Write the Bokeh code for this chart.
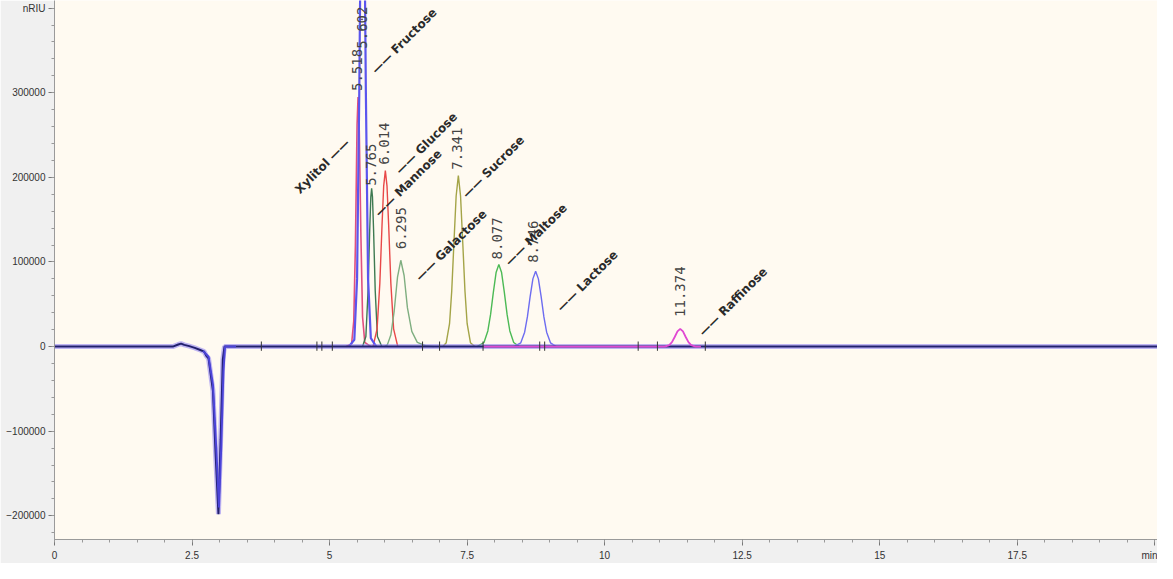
import numpy as np
from bokeh.plotting import figure
from bokeh.models import FixedTicker, Range1d, ColumnDataSource, BasicTickFormatter
from bokeh.core.properties import value
from bokeh.embed import file_html
from bokeh.resources import INLINE

# ---- data (time in min, signal) ----
BASE_T = [0.0, 2.15, 2.25, 2.30, 2.36, 2.45, 2.55, 2.65, 2.72, 2.76, 2.80, 2.88, 2.93, 2.98, 3.02, 3.06, 3.09, 20.05]
BASE_V = [0, 0, 2500, 3500, 2000, 500, -1500, -4000, -6000, -11000, -14000, -52000, -129000, -198000, -110000, -15000, 0, 0]

DIP_T = [2.70, 2.80, 2.88, 2.94, 2.99, 3.03, 3.07, 3.10, 3.30]
DIP_V = [-5000, -12000, -45000, -120000, -190000, -120000, -30000, 0, 0]

XYL_T = [5.30, 5.40, 5.44, 5.47, 5.50, 5.518, 5.54, 5.57, 5.60, 5.64, 5.75]
XYL_V = [0, 3000, 30000, 120000, 262000, 295000, 255000, 130000, 35000, 5000, 0]

FRU_T = [5.35, 5.45, 5.50, 5.54, 5.57, 5.602, 5.63, 5.66, 5.70, 5.75, 5.85]
FRU_V = [0, 8000, 80000, 300000, 520000, 650000, 520000, 300000, 80000, 10000, 0]

MAN_T = [5.60, 5.66, 5.70, 5.73, 5.75, 5.765, 5.78, 5.80, 5.83, 5.87, 5.95]
MAN_V = [0, 12000, 66000, 138000, 177000, 187000, 177000, 138000, 66000, 12000, 0]

GLU_T = [5.79, 5.864, 5.914, 5.954, 5.984, 6.014, 6.044, 6.074, 6.114, 6.164, 6.24]
GLU_V = [0, 21000, 75000, 144000, 190000, 208000, 190000, 144000, 75000, 21000, 0]

GAL_T = [6.00, 6.05, 6.115, 6.175, 6.235, 6.295, 6.355, 6.415, 6.495, 6.595, 6.745, 6.90]
GAL_V = [0, 2000, 14000, 42000, 82000, 102000, 84000, 46000, 18000, 5000, 1000, 0]

SUC_T = [7.06, 7.121, 7.181, 7.221, 7.261, 7.301, 7.341, 7.381, 7.421, 7.461, 7.501, 7.561, 7.64]
SUC_V = [0, 4600, 27000, 66000, 123000, 178000, 202000, 178000, 123000, 66000, 27000, 4600, 0]

MAL_T = [7.68, 7.807, 7.877, 7.927, 7.977, 8.027, 8.077, 8.127, 8.177, 8.227, 8.277, 8.347, 8.45]
MAL_V = [0, 4800, 18500, 38000, 64000, 87500, 97000, 87500, 64000, 38000, 18500, 4800, 0]

LAC_T = [8.35, 8.476, 8.546, 8.596, 8.646, 8.696, 8.746, 8.796, 8.846, 8.896, 8.946, 9.016, 9.12]
LAC_V = [0, 4400, 17000, 35000, 59000, 80000, 89000, 80000, 59000, 35000, 17000, 4400, 0]

RAF_T = [7.80, 11.00, 11.094, 11.174, 11.224, 11.274, 11.324, 11.374, 11.424, 11.474, 11.524, 11.574, 11.654, 11.75]
RAF_V = [0, 0, 0, 1800, 5200, 11300, 18000, 21000, 18000, 11300, 5200, 1800, 0, 0]

MARK_T = [3.76, 4.77, 4.86, 5.05, 6.69, 7.00, 7.79, 8.82, 8.91, 10.61, 10.96, 11.83]

NAMES = ["Xylitol", "Fructose", "Mannose", "Glucose", "Galactose", "Sucrose", "Maltose", "Lactose", "Raffinose"]
NAME_T = [5.33, 5.80, 5.86, 6.24, 6.60, 7.45, 8.23, 9.17, 11.75]
NAME_V = [243000, 325000, 156000, 206000, 80000, 178000, 98000, 44000, 15000]

RT_TEXT = ["5.518", "5.602", "5.765", "6.014", "6.295", "7.341", "8.077", "8.746", "11.374"]
RT_T = [5.49, 5.59, 5.75, 5.99, 6.29, 7.32, 8.05, 8.70, 11.37]
RT_V = [302000, 352000, 190000, 215000, 115000, 209000, 103000, 99000, 35000]

X_TICKS = [0, 2.5, 5, 7.5, 10, 12.5, 15, 17.5, 20]
Y_TICKS = [-200000, -100000, 0, 100000, 200000, 300000, 400000]

p = figure(width=1157, height=563, x_range=Range1d(0, 20.05), y_range=Range1d(-228000, 409000),
           output_backend="svg", toolbar_location=None,
           min_border_left=54, min_border_right=0, min_border_top=0, min_border_bottom=22)

p.background_fill_color = "#FFFAF1"
p.border_fill_color = "#F0F0F0"
p.outline_line_color = None
p.xgrid.visible = False
p.ygrid.visible = False

p.xaxis.ticker = FixedTicker(ticks=X_TICKS, minor_ticks=[i * 0.5 for i in range(0, 41)])
p.yaxis.ticker = FixedTicker(ticks=Y_TICKS, minor_ticks=[i * 20000 for i in range(-11, 21)])
p.yaxis.formatter = BasicTickFormatter(use_scientific=False)
p.xaxis.major_label_overrides = {20: "min"}
p.yaxis.major_label_overrides = {400000: "nRIU"}
for ax in (p.xaxis, p.yaxis):
    ax.axis_line_color = "#9a9a9a"
    ax.major_tick_line_color = "#777777"
    ax.minor_tick_line_color = "#999999"
    ax.major_tick_out = 6
    ax.major_tick_in = 0
    ax.minor_tick_out = 3
    ax.minor_tick_in = 0
    ax.major_label_text_font = "Liberation Sans"
    ax.major_label_text_font_size = "10px"
    ax.major_label_text_color = "#333333"
p.xaxis.major_label_standoff = 4
p.yaxis.major_label_standoff = 3

# peaks
peaks = [
    (XYL_T, XYL_V, "#e0507e", 1.6),
    (MAN_T, MAN_V, "#3e7a52", 1.4),
    (GLU_T, GLU_V, "#e84848", 1.4),
    (GAL_T, GAL_V, "#7fae80", 1.4),
    (SUC_T, SUC_V, "#a4a447", 1.4),
    (MAL_T, MAL_V, "#4cba55", 1.4),
    (LAC_T, LAC_V, "#6d6cf0", 1.4),
    (FRU_T, FRU_V, "#5b55ee", 2.2),
]
for t, v, c, w in peaks:
    p.line(t, v, line_color=c, line_width=w)

# baseline & dip
p.line(BASE_T, BASE_V, line_color="#8a7cf2", line_width=5, line_alpha=0.55)
p.line(BASE_T, BASE_V, line_color="#22206e", line_width=2)
p.line(DIP_T, DIP_V, line_color="#4c44d8", line_width=2)

# raffinose trace on top
p.line(RAF_T, RAF_V, line_color="#e048d2", line_width=1.8)

# integration markers
p.segment(x0=MARK_T, y0=[-5000] * len(MARK_T), x1=MARK_T, y1=[6000] * len(MARK_T),
          line_color="#333333", line_width=1)

# retention-time labels
rt_src = ColumnDataSource(dict(x=RT_T, y=RT_V, text=RT_TEXT))
p.text(x="x", y="y", text="text", source=rt_src, angle=np.pi / 2, text_align="left",
       text_baseline="middle", text_font=value("DejaVu Sans Mono"), text_font_size="14px",
       text_color="#444444")

# compound labels
left_src = ColumnDataSource(dict(x=NAME_T[1:], y=NAME_V[1:], text=["\u2014\u2014 " + n for n in NAMES[1:]]))
p.text(x="x", y="y", text="text", source=left_src, angle=np.pi / 4, text_align="left",
       text_baseline="middle", text_font=value("DejaVu Sans"), text_font_style="bold",
       text_font_size="12px", text_color="#2a2a2a")
right_src = ColumnDataSource(dict(x=NAME_T[:1], y=NAME_V[:1], text=[NAMES[0] + " \u2014\u2014"]))
p.text(x="x", y="y", text="text", source=right_src, angle=np.pi / 4, text_align="right",
       text_baseline="middle", text_font=value("DejaVu Sans"), text_font_style="bold",
       text_font_size="12px", text_color="#2a2a2a")

open("out.html", "w").write(file_html(p, INLINE))
